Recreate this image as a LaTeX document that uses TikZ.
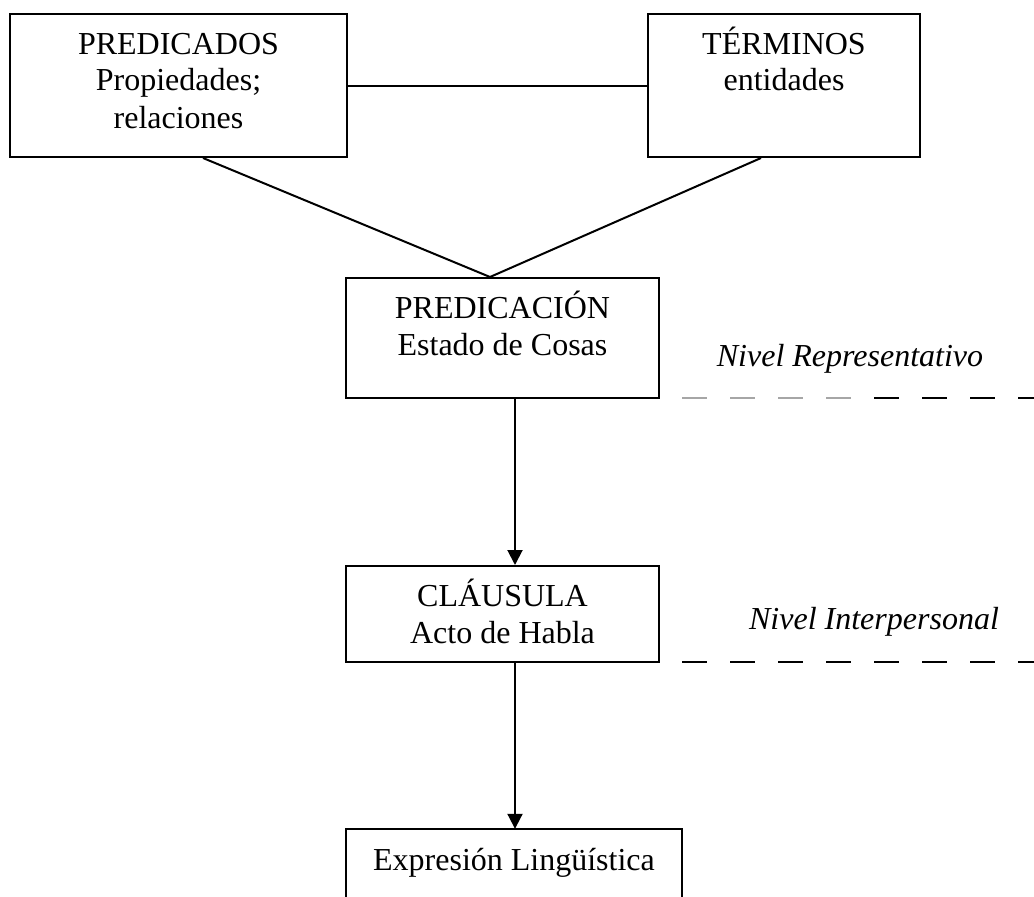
\documentclass[tikz,border=0pt]{standalone}
\usepackage{fontspec}
\setmainfont{Liberation Serif}
\usetikzlibrary{arrows.meta}
\begin{document}
\begin{tikzpicture}[x=1pt,y=-1pt,
  box/.style={draw, line width=2pt, inner sep=0pt, rectangle},
  txt/.style={anchor=base, inner sep=0pt, font=\fontsize{32}{37}\selectfont},
  itxt/.style={anchor=base, inner sep=0pt, font=\fontsize{32}{37}\selectfont\itshape},
  conn/.style={line width=2pt},
  arr/.style={line width=2pt, -{Triangle[length=15pt,width=15pt]}},
  dline/.style={line width=2pt, dash pattern=on 25pt off 23pt}
]
\useasboundingbox (0,0) rectangle (1034,897);

% boxes
\node[box, minimum width=337pt, minimum height=143pt] (pred) at (178.5,85.5) {};
\node[box, minimum width=272pt, minimum height=143pt] (term) at (784,85.5) {};
\node[box, minimum width=313pt, minimum height=120pt] (predic) at (502.5,338) {};
\node[box, minimum width=313pt, minimum height=96pt] (clau) at (502.5,614) {};
\node[inner sep=0pt, minimum width=336pt, minimum height=80pt] (expr) at (514,869) {};
\draw[conn] (expr.south west) -- (expr.north west) -- (expr.north east) -- (expr.south east);

% texts
\node[txt] (t1a) at (178.5,54) {PREDICADOS};
\node[txt] (t1b) at (178.5,90) {Propiedades;};
\node[txt] (t1c) at (178.5,128) {relaciones};
\node[txt] (t2a) at (784,54) {TÉRMINOS};
\node[txt] (t2b) at (784,90) {entidades};
\node[txt] (t3a) at (502.5,318) {PREDICACIÓN};
\node[txt] (t3b) at (502.5,355) {Estado de Cosas};
\node[txt] (t4a) at (502.5,606) {CLÁUSULA};
\node[txt] (t4b) at (502.5,643) {Acto de Habla};
\node[txt] (t5) at (514,870) {Expresión Lingüística};
\node[itxt] (n1) at (850,366) {Nivel Representativo};
\node[itxt] (n2) at (874,629) {Nivel Interpersonal};

% connectors
\draw[conn] (pred.east) -- (term.west);
\draw[conn] ([xshift=24.5pt]pred.south) -- ([xshift=-12.5pt]predic.north);
\draw[conn] ([xshift=-23pt]term.south) -- ([xshift=-12.5pt]predic.north);
\draw[arr] ([xshift=12.5pt]predic.south) -- ([xshift=12.5pt]clau.north);
\draw[arr] ([xshift=12.5pt]clau.south) -- ([xshift=12.5pt]clau.south |- expr.north);

% dashed level lines
\coordinate (d1a) at (682,398);
\coordinate (d1m) at (874,398);
\coordinate (d1b) at (1040,398);
\coordinate (d2a) at (682,662);
\coordinate (d2b) at (1040,662);
\draw[dline, black!35] (d1a) -- (d1m);
\draw[dline] (d1m) -- (d1b);
\draw[dline] (d2a) -- (d2b);
\end{tikzpicture}
\end{document}
